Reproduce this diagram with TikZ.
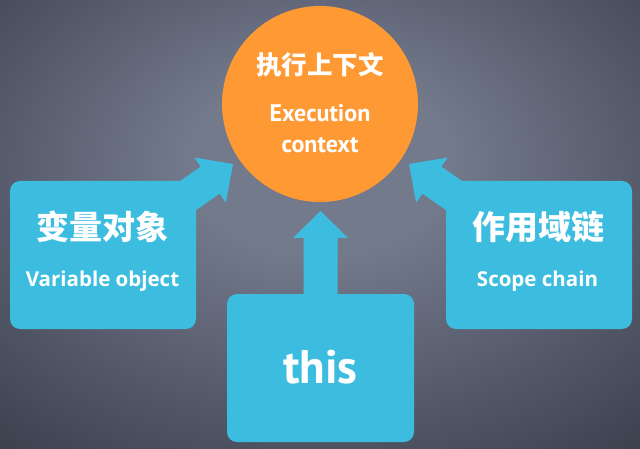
\documentclass[tikz,border=0pt]{standalone}
\usepackage{fontspec}
\newfontfamily\cjk{Noto Sans CJK SC}
\newfontfamily\lat{PT Sans}
\newfontfamily\latb{Open Sans}
\definecolor{bgin}{HTML}{737A8C}
\definecolor{bgout}{HTML}{2A2D39}
\definecolor{boxblue}{HTML}{3CBDE0}
\definecolor{ctxorange}{HTML}{FF9933}
\pgfdeclareradialshading{bgshade}{\pgfpoint{0bp}{8bp}}{color(0bp)=(bgin); color(10bp)=(bgin); color(48bp)=(bgout); color(75bp)=(bgout)}
\tikzset{
  bluebox/.style={fill=boxblue, rounded corners=10pt, draw=none, inner sep=0pt},
  blockarrow/.style={fill=boxblue, draw=none},
  cntext/.style={text=white, inner sep=0pt, anchor=base, font=\cjk\bfseries},
  entext/.style={text=white, inner sep=0pt, anchor=base, font=\lat\bfseries},
}
\begin{document}
\begin{tikzpicture}[x=1pt,y=-1pt]
\useasboundingbox (0,0) rectangle (640,449);
\shade[shading=bgshade] (0,0) rectangle (640,449);

% block arrows
\path[blockarrow] (143.3,206.8) -- (200.6,166.6) -- (194.3,157.6) -- (233,164) -- (225.9,202.6) -- (219.6,193.6) -- (162.3,233.8) -- cycle;
\path[blockarrow] (498.7,206.8) -- (441.4,166.6) -- (447.7,157.6) -- (409,164) -- (416.1,202.6) -- (422.4,193.6) -- (479.7,233.8) -- cycle;
\path[blockarrow] (303.5,300) -- (303.5,238) -- (293,238) -- (320.5,211) -- (348,238) -- (337.5,238) -- (337.5,300) -- cycle;

% boxes and circle
\node[bluebox, minimum width=186pt, minimum height=148pt] (vo) at (103,255) {};
\node[bluebox, minimum width=186pt, minimum height=148pt] (sc) at (539,255) {};
\node[bluebox, minimum width=187pt, minimum height=148pt] (th) at (320.5,368) {};
\node[circle, fill=ctxorange, minimum size=196pt, inner sep=0pt] (ec) at (320,104) {};

% texts
\node[cntext, font=\cjk\bfseries\fontsize{25.5}{30}\selectfont] (eccn) at (320,75) {执行上下文};
\node[entext, font=\lat\bfseries\fontsize{24}{28}\selectfont] (ecen1) at (320,122) {Execution};
\node[entext, font=\lat\bfseries\fontsize{24}{28}\selectfont] (ecen2) at (320,153) {context};

\node[cntext, font=\cjk\bfseries\fontsize{33}{38}\selectfont] (vocn) at (102,239.5) {变量对象};
\node[entext, font=\latb\bfseries\fontsize{20.5}{25}\selectfont] (voen) at (102.5,287) {Variable object};

\node[cntext, font=\cjk\bfseries\fontsize{33}{38}\selectfont] (sccn) at (538,239.5) {作用域链};
\node[entext, font=\latb\bfseries\fontsize{20.5}{25}\selectfont] (scen) at (537.5,287) {Scope chain};

\node[entext, font=\lat\bfseries\fontsize{47}{52}\selectfont] (thtext) at (320.5,383) {this};
\end{tikzpicture}
\end{document}
